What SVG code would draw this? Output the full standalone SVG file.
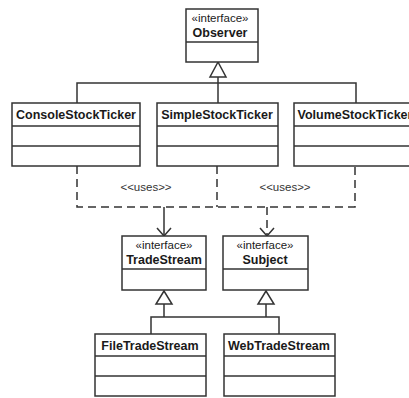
<svg xmlns="http://www.w3.org/2000/svg" width="409" height="398" viewBox="0 0 409 398">
  <defs>
    <style>
      .box { fill: #ffffff; stroke: #333333; stroke-width: 1.5; }
      .div { stroke: #333333; stroke-width: 1.5; }
      .line { fill: none; stroke: #333333; stroke-width: 1.5; }
      .dash { fill: none; stroke: #333333; stroke-width: 1.5; stroke-dasharray: 8 5; }
      .tri { fill: #ffffff; stroke: #333333; stroke-width: 1.5; }
      .name { font-family: "Liberation Sans", Arial, sans-serif; font-size: 12.5px; font-weight: bold; fill: #1a1a1a; text-anchor: middle; }
      .stereo { font-family: "Liberation Sans", Arial, sans-serif; font-size: 11.5px; fill: #1a1a1a; text-anchor: middle; }
      .label { font-family: "Liberation Sans", Arial, sans-serif; font-size: 11.5px; fill: #333333; text-anchor: middle; }
    </style>
    <marker id="open" viewBox="0 0 16 10" refX="8" refY="9" markerWidth="16" markerHeight="10" markerUnits="userSpaceOnUse" orient="0">
      <path d="M1 1 L8 9 L15 1" fill="none" stroke="#333333" stroke-width="1.5"/>
    </marker>
  </defs>

  <rect width="409" height="398" fill="#ffffff"/>

  <!-- connectors -->
  <g id="connectors">
    <!-- realization of Observer -->
    <polyline class="line" points="77,103 77,83 356,83 356,103"/>
    <line class="line" x1="218" y1="77" x2="218" y2="103"/>
    <polygon class="tri" points="218,62 210,77 226,77"/>
    <!-- uses dependencies -->
    <polyline class="dash" points="77,166 77,207 355,207 355,166"/>
    <line class="dash" x1="217" y1="166" x2="217" y2="207"/>
    <line class="line" x1="164" y1="207" x2="164" y2="236" marker-end="url(#open)"/>
    <line class="dash" x1="267" y1="207" x2="267" y2="236" marker-end="url(#open)"/>
    <text class="label" x="146" y="191">&lt;&lt;uses&gt;&gt;</text>
    <text class="label" x="285" y="191">&lt;&lt;uses&gt;&gt;</text>
    <!-- realization of TradeStream and Subject -->
    <polyline class="line" points="151,334 151,317 279,317 279,334"/>
    <line class="line" x1="164" y1="304" x2="164" y2="317"/>
    <line class="line" x1="266" y1="304" x2="266" y2="317"/>
    <polygon class="tri" points="164,291 156,304 172,304"/>
    <polygon class="tri" points="266,291 258,304 274,304"/>
  </g>

  <g id="Observer">
    <rect class="box" x="186" y="9" width="72" height="53"/>
    <line class="div" x1="186" y1="42" x2="258" y2="42"/>
    <text class="stereo" x="220" y="22">«interface»</text>
    <text class="name" x="220" y="37">Observer</text>
  </g>

  <g id="ConsoleStockTicker">
    <rect class="box" x="12" y="103" width="128" height="63"/>
    <line class="div" x1="12" y1="126" x2="140" y2="126"/>
    <line class="div" x1="12" y1="146" x2="140" y2="146"/>
    <text class="name" x="76" y="119">ConsoleStockTicker</text>
  </g>

  <g id="SimpleStockTicker">
    <rect class="box" x="157" y="103" width="121" height="63"/>
    <line class="div" x1="157" y1="126" x2="278" y2="126"/>
    <line class="div" x1="157" y1="146" x2="278" y2="146"/>
    <text class="name" x="217" y="119">SimpleStockTicker</text>
  </g>

  <g id="VolumeStockTicker">
    <rect class="box" x="294" y="103" width="122" height="63"/>
    <line class="div" x1="294" y1="126" x2="416" y2="126"/>
    <line class="div" x1="294" y1="146" x2="416" y2="146"/>
    <text class="name" x="355" y="119">VolumeStockTicker</text>
  </g>

  <g id="TradeStream">
    <rect class="box" x="122" y="236" width="84" height="54"/>
    <line class="div" x1="122" y1="269" x2="206" y2="269"/>
    <text class="stereo" x="164" y="249">«interface»</text>
    <text class="name" x="164" y="264">TradeStream</text>
  </g>

  <g id="Subject">
    <rect class="box" x="223" y="236" width="85" height="54"/>
    <line class="div" x1="223" y1="269" x2="308" y2="269"/>
    <text class="stereo" x="265" y="249">«interface»</text>
    <text class="name" x="265" y="264">Subject</text>
  </g>

  <g id="FileTradeStream">
    <rect class="box" x="95" y="334" width="111" height="62"/>
    <line class="div" x1="95" y1="356" x2="206" y2="356"/>
    <line class="div" x1="95" y1="376" x2="206" y2="376"/>
    <text class="name" x="150" y="350">FileTradeStream</text>
  </g>

  <g id="WebTradeStream">
    <rect class="box" x="224" y="334" width="111" height="62"/>
    <line class="div" x1="224" y1="356" x2="335" y2="356"/>
    <line class="div" x1="224" y1="376" x2="335" y2="376"/>
    <text class="name" x="279" y="350">WebTradeStream</text>
  </g>
</svg>
